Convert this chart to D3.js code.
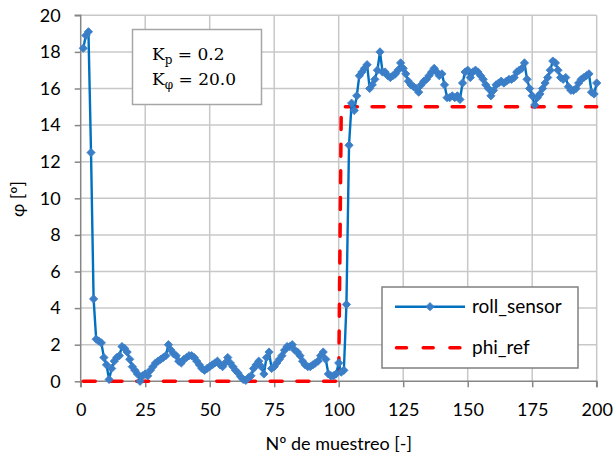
<!DOCTYPE html>
<html>
<head>
<meta charset="utf-8">
<script src="https://cdnjs.cloudflare.com/ajax/libs/d3/7.8.5/d3.min.js"></script>
<style>
  body { margin: 0; background: #fff; }
  text { font-family: Lato, "Open Sans", sans-serif; fill: #000; }
</style>
</head>
<body>
<div id="app"></div>
<script>
// roll_sensor readings, sample 1..200
const rollSensor = [
  18.2, 18.9, 19.1, 12.5, 4.5, 2.3, 2.2, 2.1, 1.3, 0.9,
  0.1, 0.7, 1.1, 1.3, 1.4, 1.9, 1.8, 1.6, 1.2, 0.8,
  0.6, 0.4, 0.0, 0.3, 0.4, 0.3, 0.6, 0.8, 1.0, 1.1,
  1.2, 1.3, 1.4, 2.0, 1.7, 1.5, 1.4, 1.1, 1.0, 1.2,
  1.3, 1.4, 1.4, 1.3, 1.1, 0.9, 0.7, 0.6, 0.7, 0.8,
  0.9, 1.0, 1.1, 0.9, 0.8, 1.0, 1.3, 1.0, 0.8, 0.6,
  0.45, 0.25, 0.1, 0.05, 0.2, 0.3, 0.7, 0.9, 1.1, 0.8,
  0.4, 1.3, 1.6, 0.7, 0.8, 1.0, 1.2, 1.4, 1.7, 1.9,
  1.9, 2.0, 1.7, 1.6, 1.4, 1.1, 0.9, 0.8, 0.8, 0.9,
  1.0, 1.1, 1.4, 1.6, 1.2, 0.4, 0.3, 0.3, 0.4, 1.0,
  0.5, 0.6, 4.2, 12.9, 15.2, 14.8, 15.6, 16.7, 16.9, 17.1,
  17.3, 16.0, 16.2, 16.5, 17.0, 18.0, 16.9, 16.9, 16.7, 16.6,
  16.7, 16.8, 17.0, 17.4, 17.1, 16.8, 16.4, 16.2, 16.1, 16.0,
  15.8, 16.2, 16.4, 16.5, 16.7, 16.9, 17.1, 16.9, 16.7, 16.8,
  16.2, 15.5, 15.5, 15.6, 15.5, 15.6, 15.4, 16.3, 16.9, 17.0,
  16.6, 16.9, 17.0, 16.9, 16.7, 16.5, 16.2, 16.0, 15.6, 15.9,
  16.2, 16.3, 16.4, 16.3, 16.4, 16.5, 16.5, 16.6, 16.9, 17.0,
  17.1, 17.4, 16.5, 16.0, 15.6, 15.1, 15.5, 15.7, 16.0, 16.3,
  16.6, 17.0, 17.5, 17.4, 17.0, 16.6, 16.5, 16.6, 16.1, 15.9,
  15.9, 16.0, 16.3, 16.5, 16.6, 16.7, 16.8, 15.8, 15.7, 16.3
];
// phi_ref: 0 up to sample 100, 15 afterwards
const phiRefLevels = [0, 15];
const phiRefStep = 100;
const xTicks = [0, 25, 50, 75, 100, 125, 150, 175, 200];
const yTicks = [0, 2, 4, 6, 8, 10, 12, 14, 16, 18, 20];

const samples = rollSensor.map((v, i) => ({ n: i + 1, v }));
const phiRef = samples.map((d) => ({ n: d.n, v: d.n <= phiRefStep ? phiRefLevels[0] : phiRefLevels[1] }));

const w = 615, h = 459;
const pLeft = 80.7, pRight = 596.7, pTop = 15.3, pBottom = 381.3;

const svg = d3.select("#app").append("svg").attr("width", w).attr("height", h);

const x = d3.scaleLinear().domain([0, 200]).range([pLeft, pRight]);
const y = d3.scaleLinear().domain([0, 20]).range([pBottom, pTop]);

//grid
svg.append("g").selectAll("line").data(yTicks.slice(1)).enter().append("line")
  .attr("x1", pLeft).attr("x2", pRight)
  .attr("y1", (d) => y(d)).attr("y2", (d) => y(d))
  .attr("stroke", "#c8c8c8").attr("stroke-width", 1.5);
svg.append("g").selectAll("line").data(xTicks.slice(1)).enter().append("line")
  .attr("x1", (d) => x(d)).attr("x2", (d) => x(d))
  .attr("y1", pTop).attr("y2", pBottom)
  .attr("stroke", "#c8c8c8").attr("stroke-width", 1.5);

//axes
const xAxis = d3.axisBottom(x).tickValues(xTicks).tickSize(6).tickPadding(16);
const yAxis = d3.axisLeft(y).tickValues(yTicks).tickSize(6).tickPadding(14);

const gx = svg.append("g").attr("transform", `translate(0,${pBottom})`).call(xAxis);
const gy = svg.append("g").attr("transform", `translate(${pLeft},0)`).call(yAxis);
[gx, gy].forEach((g) => {
  g.select(".domain").attr("stroke", "#868686").attr("stroke-width", 1.5);
  g.selectAll(".tick line").attr("stroke", "#868686").attr("stroke-width", 1.5);
  g.selectAll(".tick text").style("font-family", "Lato, sans-serif").style("font-size", "18px").attr("fill", "#000");
});
gy.select(".domain").attr("d", `M-6,${pTop}H0V${pBottom}`);
gx.select(".domain").attr("d", `M${pLeft},6V0H${pRight}V6`);

//phi_ref
svg.append("path").datum(phiRef)
  .attr("fill", "none").attr("stroke", "#ff0000").attr("stroke-width", 3.5)
  .attr("stroke-dasharray", "12,14.7").attr("stroke-linecap", "round")
  .attr("d", d3.line().x((d) => x(d.n)).y((d) => y(d.v)));

//roll_sensor
svg.append("path").datum(samples)
  .attr("fill", "none").attr("stroke", "#0070c0").attr("stroke-width", 2.4)
  .attr("d", d3.line().x((d) => x(d.n)).y((d) => y(d.v)));

const diamond = d3.symbol().type(d3.symbolSquare).size(34);
svg.append("g").selectAll("path").data(samples).enter().append("path")
  .attr("d", diamond)
  .attr("transform", (d) => `translate(${x(d.n)},${y(d.v)}) rotate(45)`)
  .attr("fill", "#3b7ec8").attr("stroke", "#3b7ec8").attr("stroke-width", 0.8);

//gains box
svg.append("rect").attr("x", 132.5).attr("y", 29.5).attr("width", 129).attr("height", 75)
  .attr("fill", "#fff").attr("stroke", "#a6a6a6").attr("stroke-width", 1.5);
const gains = [["p", "0.2", 60], ["φ", "20.0", 85]];
gains.forEach(([sub, val, by]) => {
  const t = svg.append("text").attr("x", 152).attr("y", by)
    .style("font-family", "'DejaVu Serif', serif").style("font-size", "17px");
  t.append("tspan").text("K");
  t.append("tspan").text(sub).style("font-size", "12px").attr("dy", 4);
  t.append("tspan").text(" = " + val).attr("dy", -4);
});

//legend
const lg = svg.append("g");
lg.append("rect").attr("x", 382).attr("y", 287).attr("width", 196).attr("height", 81)
  .attr("fill", "#fff").attr("stroke", "#808080").attr("stroke-width", 1.5);
lg.append("line").attr("x1", 395).attr("x2", 465).attr("y1", 306.7).attr("y2", 306.7)
  .attr("stroke", "#0070c0").attr("stroke-width", 2.4);
lg.append("path").attr("d", diamond).attr("transform", "translate(430,306.7) rotate(45)")
  .attr("fill", "#3b7ec8").attr("stroke", "#3b7ec8").attr("stroke-width", 0.8);
lg.append("line").attr("x1", 396.5).attr("x2", 466).attr("y1", 347.7).attr("y2", 347.7)
  .attr("stroke", "#ff0000").attr("stroke-width", 3.5)
  .attr("stroke-dasharray", "10,16.7").attr("stroke-linecap", "round");
lg.append("text").attr("x", 472).attr("y", 313).style("font-size", "19px").text("roll_sensor");
lg.append("text").attr("x", 472).attr("y", 354).style("font-size", "19px").text("phi_ref");

//axis titles
svg.append("text").attr("x", (pLeft + pRight) / 2).attr("y", 450).attr("text-anchor", "middle")
  .style("font-size", "18px").text("Nº de muestreo [-]");
svg.append("text").attr("transform", "translate(24,199) rotate(-90)").attr("text-anchor", "middle")
  .style("font-size", "18px").text("φ [º]");
</script>
</body>
</html>
